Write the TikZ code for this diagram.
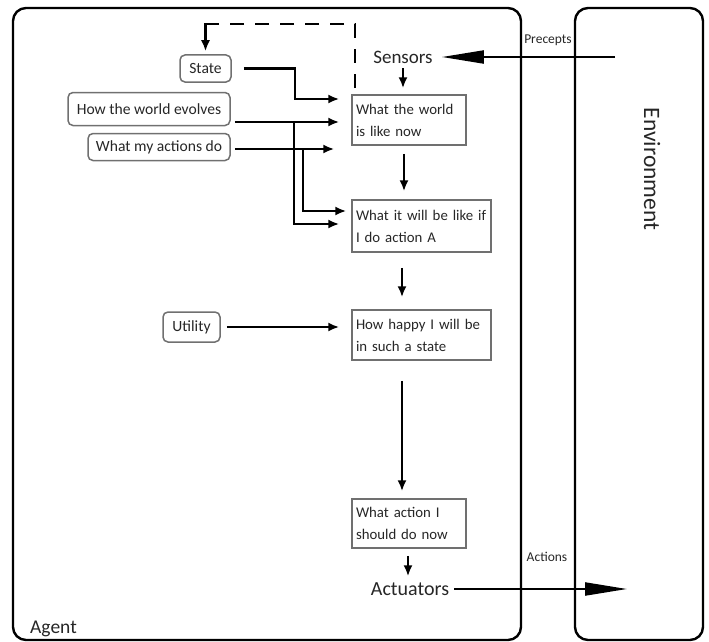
\documentclass[tikz,border=0pt]{standalone}
\usepackage{fontspec}
\setmainfont{Carlito}
\usetikzlibrary{arrows.meta}

\begin{document}
\definecolor{ink}{HTML}{262626}
\definecolor{rim}{HTML}{707070}

\tikzset{
  frame/.style={draw=black, line width=2.4pt, rounded corners=13},
  pane/.style={draw=rim, line width=1.5pt, text=ink, anchor=center,
    font=\fontsize{14.8}{22}\selectfont, align=left, inner xsep=4, inner ysep=3},
  tag/.style={draw=rim, line width=1.5pt, rounded corners=5, text=ink,
    font=\fontsize{15.6}{17}\selectfont, inner sep=0},
  word/.style={text=ink, inner sep=0},
  arr/.style={line width=2.1pt, -{Latex[length=11,width=9]}},
  bigarr/.style={line width=2.1pt, -{Triangle[length=42,width=13]}},
  dashline/.style={line width=2.1pt, dash pattern=on 14 off 11}
}

\begin{tikzpicture}[x=1pt,y=-1pt]
  \useasboundingbox (0,0) rectangle (709,642);

  % agent and environment frames
  \draw[frame] (13,8) rectangle (521,640);
  \draw[frame] (575,8) rectangle (703,640);

  \node[word, font=\fontsize{19.5}{22}\selectfont, anchor=base west] (agent) at (30,633) {Agent};
  \node[word, font=\fontsize{23.5}{26}\selectfont, rotate=-90] (env) at (652,169) {Environment};
  \node[word, font=\fontsize{13.5}{15}\selectfont] (prec) at (548,40) {Precepts};
  \node[word, font=\fontsize{13.5}{15}\selectfont] (actl) at (547,557) {Actions};

  % sensor and actuator labels
  \node[word, font=\fontsize{19}{22}\selectfont] (sens) at (403,57) {Sensors};
  \node[word, font=\fontsize{20}{22}\selectfont] (actu) at (410,589) {Actuators};

  % reasoning chain
  \node[pane, minimum width=114, minimum height=50, text width=106] (b1) at (409,120)
    {What the world\\is like now};
  \node[pane, minimum width=139, minimum height=52, text width=131] (b2) at (421.5,226)
    {What it will be like if\\I do action A};
  \node[pane, minimum width=139, minimum height=50, text width=131] (b3) at (421.5,335)
    {How happy I will be\\in such a state};
  \node[pane, minimum width=114, minimum height=49, text width=106] (b4) at (409,523.5)
    {What action I\\should do now};

  % knowledge inputs
  \node[tag, minimum width=51, minimum height=27] (st) at (205.5,68.5) {State};
  \node[tag, minimum width=162, minimum height=33] (evo) at (149,109) {How the world evolves};
  \node[tag, minimum width=142, minimum height=27] (acd) at (159,147) {What my actions do};
  \node[tag, minimum width=57, minimum height=30] (ut) at (191.5,327) {Utility};

  % environment links
  \coordinate (penv) at (615,57);
  \coordinate (aenv) at (627,589);
  \draw[bigarr, shorten >=9] (penv) -- (sens.east);
  \draw[bigarr, shorten <=5] (actu.east) -- (aenv);

  % main vertical flow
  \draw[arr, shorten <=5, shorten >=6] (sens.south) -- (sens.south |- b1.north);
  \draw[arr, shorten <=8, shorten >=8] ([xshift=-5]b1.south) -- ([xshift=-5]b1.south |- b2.north);
  \draw[arr, shorten <=15, shorten >=12] ([xshift=-19.5]b2.south) -- ([xshift=-19.5]b2.south |- b3.north);
  \draw[arr, shorten <=20, shorten >=7] ([xshift=-19.5]b3.south) -- ([xshift=-19.5]b3.south |- b4.north);
  \draw[arr, shorten <=7, shorten >=6] ([xshift=-1]b4.south) -- ([xshift=-1]b4.south |- actu.north);

  % state feedback: dashed run, solid drop into the state node
  \coordinate (fb) at (355,88);
  \coordinate (fbc) at (st.north |- 0,24);
  \draw[dashline] (fb) -- (355,24) -- (fbc);
  \draw[arr, line cap=rect, shorten >=3] (fbc) -- (st.north);

  % inputs into the chain
  \draw[arr, shorten <=12, shorten >=12] (st.east) -| (295,99) -- (b1.west |- 0,99);
  \draw[arr, shorten <=4, shorten >=12] (evo.east |- 0,122) -- (b1.west |- 0,122);
  \coordinate (j1) at (294,122);
  \draw[arr, shorten >=12] (j1) |- (b2.west |- 0,224);
  \draw[arr, shorten <=4, shorten >=17] (acd.east |- 0,149) -- (b1.west |- 0,149);
  \coordinate (j2) at (303,149);
  \draw[arr, shorten >=5] (j2) |- (b2.west |- 0,211);
  \draw[arr, shorten <=6, shorten >=12] (ut.east) -- (b3.west |- ut.east);
\end{tikzpicture}
\end{document}
